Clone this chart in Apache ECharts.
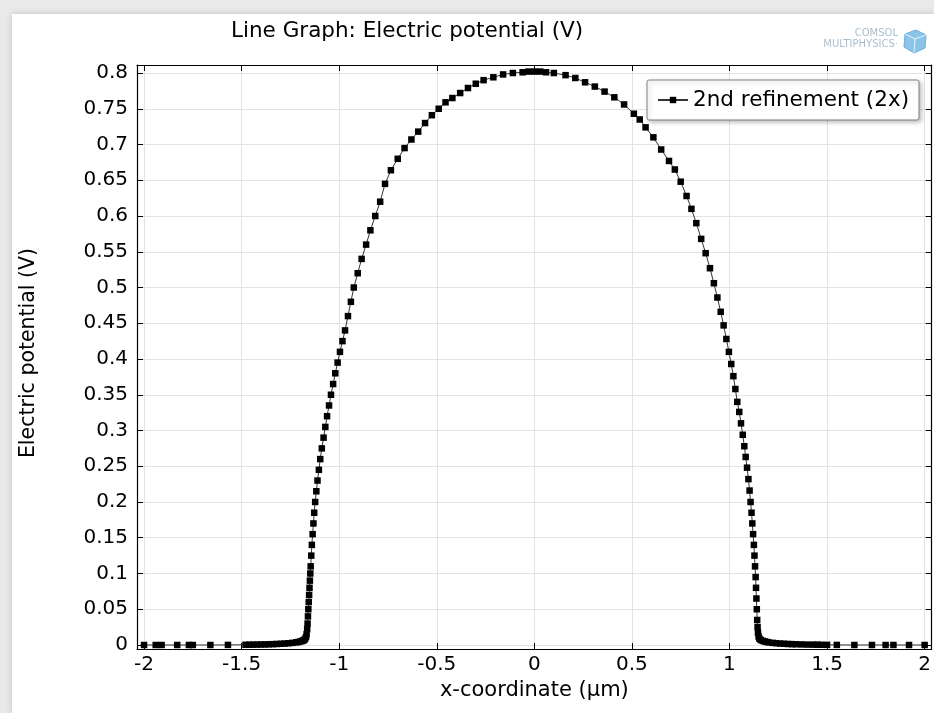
<!DOCTYPE html>
<html>
<head>
<meta charset="utf-8">
<script src="https://cdn.jsdelivr.net/npm/echarts@6/dist/echarts.min.js"></script>
<style>
  html, body { margin: 0; padding: 0; background: #e9e9e9; }
  #wrap { position: absolute; left: 12px; top: 14px; width: 922px; height: 699px; background: #fff; box-shadow: 0 0 6px rgba(0,0,0,0.18); }
  #chart { position: absolute; left: 0; top: 0; width: 934px; height: 713px; }
</style>
</head>
<body>
<div id="wrap"></div>
<div id="chart"></div>
<script>
// ---- data ----
const titleText = 'Line Graph: Electric potential (V)';
const seriesName = '2nd refinement (2x)';
const xAxisTitle = 'x-coordinate (\u00b5m)';
const yAxisTitle = 'Electric potential (V)';

const xTicks = [-2, -1.5, -1, -0.5, 0, 0.5, 1, 1.5, 2];
const yTicks = [0, 0.05, 0.1, 0.15, 0.2, 0.25, 0.3, 0.35, 0.4, 0.45, 0.5, 0.55, 0.6, 0.65, 0.7, 0.75, 0.8];
const xRange = [-2.036, 2.036];
const yRange = [-0.0056, 0.8112];

// x-coordinate (µm) of mesh points
const xs = [
  -2.0, -1.94, -1.91, -1.83, -1.77, -1.75, -1.66, -1.57, -1.48, -1.46, -1.44, -1.42, -1.40, -1.38, -1.36,
  -1.34, -1.32, -1.30, -1.28, -1.26, -1.24, -1.22, -1.21, -1.20, -1.19, -1.185, -1.18, -1.175, -1.17, -1.167,
  -1.164, -1.162, -1.160, -1.158, -1.156, -1.154, -1.152, -1.150, -1.148, -1.146, -1.143, -1.140, -1.136, -1.132,
  -1.128, -1.123, -1.117, -1.111, -1.104, -1.097, -1.089, -1.080, -1.071, -1.062, -1.052, -1.042, -1.031, -1.020,
  -1.008, -0.996, -0.983, -0.970, -0.955, -0.940, -0.925, -0.905, -0.885, -0.862, -0.840, -0.815, -0.790, -0.765,
  -0.735, -0.700, -0.665, -0.630, -0.595, -0.560, -0.525, -0.490, -0.455, -0.420, -0.380, -0.340, -0.300, -0.260,
  -0.210, -0.160, -0.110, -0.060, -0.030, 0.0,
  0.03, 0.06, 0.10, 0.16, 0.21, 0.26, 0.31, 0.36, 0.41, 0.46, 0.51, 0.54, 0.57, 0.61, 0.65, 0.69, 0.72, 0.75,
  0.78, 0.805, 0.83, 0.855, 0.878, 0.90, 0.92, 0.938, 0.955, 0.97, 0.984, 0.997, 1.009, 1.02, 1.03, 1.04, 1.05,
  1.059, 1.068, 1.076, 1.083, 1.09, 1.097, 1.103, 1.108, 1.113, 1.117, 1.121, 1.125, 1.128, 1.131, 1.134, 1.136,
  1.138, 1.140, 1.142, 1.144, 1.146, 1.149, 1.153, 1.16, 1.17, 1.18, 1.19, 1.20, 1.22, 1.24, 1.26, 1.28, 1.30,
  1.32, 1.34, 1.37, 1.40, 1.43, 1.45, 1.47, 1.50, 1.55, 1.64, 1.73, 1.80, 1.84, 1.92, 2.0
];
// electric potential (V) at those points
const vs = [
  0, 0, 0, 0, 0, 0, 0, 0.0001, 0.0003, 0.0004, 0.0005, 0.0006, 0.0007, 0.0008, 0.001,
  0.0012, 0.0014, 0.0017, 0.002, 0.0024, 0.003, 0.0037, 0.0042, 0.0048, 0.0056, 0.0062, 0.007, 0.0085, 0.011, 0.015,
  0.022, 0.03, 0.04, 0.05, 0.06, 0.07, 0.08, 0.09, 0.10, 0.11, 0.125, 0.14, 0.155, 0.17,
  0.185, 0.2, 0.215, 0.23, 0.245, 0.26, 0.275, 0.29, 0.305, 0.32, 0.335, 0.35, 0.365, 0.38,
  0.395, 0.41, 0.425, 0.44, 0.46, 0.48, 0.50, 0.52, 0.54, 0.56, 0.58, 0.60, 0.62, 0.645,
  0.664, 0.68, 0.695, 0.707, 0.718, 0.73, 0.741, 0.75, 0.759, 0.765, 0.772, 0.779, 0.785, 0.790,
  0.794, 0.798, 0.800, 0.801, 0.802, 0.802,
  0.802, 0.801, 0.800, 0.797, 0.793, 0.787, 0.781, 0.774, 0.766, 0.756, 0.743, 0.735, 0.724, 0.71, 0.693, 0.677, 0.665, 0.648,
  0.628, 0.61, 0.59, 0.568, 0.548, 0.527, 0.506, 0.486, 0.466, 0.447, 0.428, 0.41, 0.393, 0.376, 0.358, 0.34, 0.326,
  0.31, 0.294, 0.278, 0.263, 0.248, 0.232, 0.216, 0.2, 0.185, 0.17, 0.155, 0.14, 0.125, 0.11, 0.095, 0.08,
  0.065, 0.05, 0.035, 0.025, 0.017, 0.012, 0.009, 0.007, 0.0058, 0.005, 0.0043, 0.0037, 0.003, 0.0025, 0.002, 0.0017, 0.0014,
  0.0012, 0.001, 0.0008, 0.0006, 0.0005, 0.0004, 0.0003, 0.0002, 0.0001, 0, 0, 0, 0, 0, 0
];

const FONT = 'DejaVu Sans';
const seriesData = xs.map((x, i) => [x, vs[i]]);

const chart = echarts.init(document.getElementById('chart'), null, { renderer: 'canvas' });

const frameAxisLine = { show: true, onZero: false, lineStyle: { color: '#000', width: 1.2 } };

chart.setOption({
  animation: false,
  backgroundColor: 'transparent',
  textStyle: { fontFamily: FONT },
  title: {
    text: titleText,
    left: 226, top: 15,
    textStyle: { fontFamily: FONT, fontSize: 21.5, fontWeight: 'normal', color: '#000' }
  },
  legend: {
    left: 647, top: 80,
    padding: [8, 10],
    itemWidth: 30, itemHeight: 8, itemGap: 5,
    backgroundColor: '#fff',
    borderColor: '#808080', borderWidth: 1, borderRadius: 2,
    shadowColor: 'rgba(0,0,0,0.25)', shadowBlur: 4, shadowOffsetX: 2, shadowOffsetY: 2,
    textStyle: { fontFamily: FONT, fontSize: 21.5, lineHeight: 24, color: '#000' },
    data: [seriesName]
  },
  grid: { left: 137, right: 0, top: 65, bottom: 64, containLabel: false },
  xAxis: [
    {
      type: 'value', min: xRange[0], max: xRange[1], position: 'bottom',
      name: xAxisTitle, nameLocation: 'middle', nameGap: 29,
      nameTextStyle: { fontFamily: FONT, fontSize: 21, color: '#000' },
      axisLine: frameAxisLine,
      axisTick: { show: true, inside: true, length: 6, customValues: xTicks, lineStyle: { color: '#000' } },
      axisLabel: { show: true, customValues: xTicks, fontFamily: FONT, fontSize: 20, color: '#000', margin: 6,
                   formatter: v => String(v) },
      splitLine: { show: true, customValues: xTicks, lineStyle: { color: '#e3e3e3', width: 1 } }
    },
    {
      type: 'value', min: xRange[0], max: xRange[1], position: 'top',
      axisLine: frameAxisLine,
      axisTick: { show: true, inside: true, length: 6, customValues: xTicks, lineStyle: { color: '#000' } },
      axisLabel: { show: false },
      splitLine: { show: false }
    }
  ],
  yAxis: [
    {
      type: 'value', min: yRange[0], max: yRange[1], position: 'left',
      name: yAxisTitle, nameLocation: 'middle', nameGap: 98, nameRotate: 90,
      nameTextStyle: { fontFamily: FONT, fontSize: 20.5, color: '#000', padding: [0, 0, 0, 8] },
      axisLine: frameAxisLine,
      axisTick: { show: true, inside: true, length: 6, customValues: yTicks, lineStyle: { color: '#000' } },
      axisLabel: { show: true, customValues: yTicks, fontFamily: FONT, fontSize: 20, color: '#000', margin: 9,
                   formatter: v => String(v) },
      splitLine: { show: true, customValues: yTicks, lineStyle: { color: '#e3e3e3', width: 1 } }
    },
    {
      type: 'value', min: yRange[0], max: yRange[1], position: 'right',
      axisLine: frameAxisLine,
      axisTick: { show: true, inside: true, length: 6, customValues: yTicks, lineStyle: { color: '#000' } },
      axisLabel: { show: false },
      splitLine: { show: false }
    }
  ],
  graphic: [
    { type: 'text', right: 36, top: 28, style: { text: 'COMSOL', fontFamily: FONT, fontSize: 10, fill: '#a9bfce' } },
    { type: 'text', right: 36, top: 39, style: { text: 'MULTIPHYSICS\u00b7', fontFamily: FONT, fontSize: 10, fill: '#a9bfce' } },
    { type: 'polygon', shape: { points: [[905, 34], [916, 30], [926, 35], [925, 48], [914, 53], [904, 47]] },
      style: { fill: '#8cc3e8', stroke: '#6aaedc', lineWidth: 1 } },
    { type: 'polyline', shape: { points: [[905, 34], [915, 39], [926, 35]] }, style: { stroke: '#e8f4fb', lineWidth: 1, fill: null } },
    { type: 'polyline', shape: { points: [[915, 39], [914, 53]] }, style: { stroke: '#e8f4fb', lineWidth: 1, fill: null } }
  ],
  series: [
    {
      name: seriesName,
      type: 'line',
      xAxisIndex: 0, yAxisIndex: 0,
      data: seriesData,
      showSymbol: true, showAllSymbol: true,
      symbol: 'rect', symbolSize: 6.5,
      itemStyle: { color: '#000' },
      lineStyle: { color: '#333', width: 1 },
      clip: false,
      z: 5
    }
  ]
});
</script>
</body>
</html>
